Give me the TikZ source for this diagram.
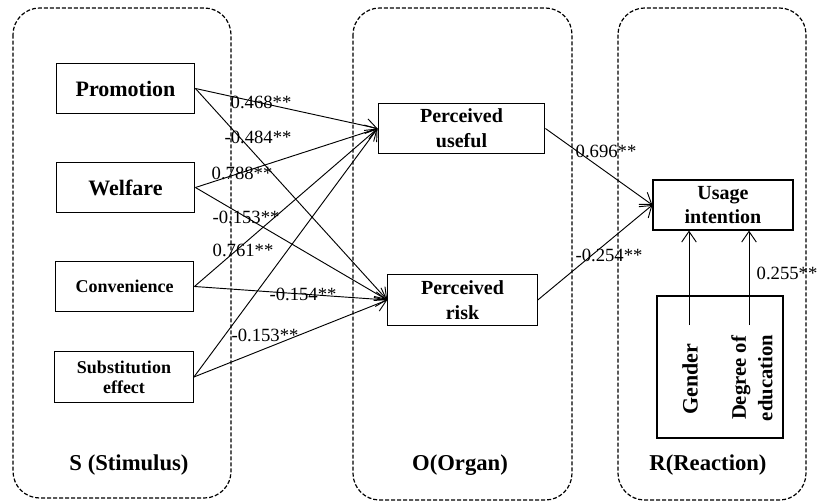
\documentclass[tikz,border=0pt]{standalone}
\usepackage{fontspec}
\setmainfont{Liberation Serif}
\usetikzlibrary{arrows.meta}

\begin{document}
\begin{tikzpicture}[x=0.75pt,y=-0.75pt,
            panel/.style={draw,dash pattern=on 3pt off 1.5pt,line width=0.9pt,
                    rounded corners=20pt},
            sbox/.style={rectangle,draw,line width=0.9pt,minimum width=104pt,
                    minimum height=38pt,align=center,
                    font=\fontsize{16.5}{19}\bfseries\selectfont},
            ssmall/.style={sbox,font=\fontsize{13.5}{15}\bfseries\selectfont},
            obox/.style={rectangle,draw,line width=0.9pt,minimum height=38pt,
                    align=center,font=\fontsize{15}{18.5}\bfseries\selectfont},
            coef/.style={inner sep=0pt,font=\fontsize{14}{16}\selectfont},
            title/.style={font=\fontsize{17}{20}\bfseries\selectfont},
            link/.style={line width=0.7pt,-{Straight Barb[length=8pt,width=11pt]}},
        ]
        \useasboundingbox (0,0) rectangle (818,503);

        % Panels
        \draw[panel] (13,8) rectangle (231,498);
        \draw[panel] (353,8) rectangle (572,500);
        \draw[panel] (618,8) rectangle (806,500);
        \node[title] (stitle) at (129,465) {S (Stimulus)};
        \node[title] (otitle) at (460,465) {O(Organ)};
        \node[title] (rtitle) at (708,465) {R(Reaction)};

        % Stimulus
        \node[sbox] (promo) at (125.5,88.5) {Promotion};
        \node[sbox] (welf) at (125.5,187.5) {Welfare};
        \node[ssmall] (conv) at (124.5,286.5) {Convenience};
        \node[ssmall] (subst) at (124,377) {Substitution\\effect};

        % Organ
        \node[obox,minimum width=125pt] (useful) at (461.5,128.5) {Perceived\\useful};
        \node[obox,minimum width=112pt] (risk) at (462.5,300) {Perceived\\risk};

        % Reaction
        \node[obox,minimum width=105pt,minimum height=37.5pt] (usage) at (723,205) {Usage\\intention};
        \node[rectangle,draw,line width=0.9pt,minimum width=94.5pt,
            minimum height=106.5pt] (ctrl) at (720,367) {};
        \node[rotate=90,font=\fontsize{16.5}{19}\bfseries\selectfont]
            (gender) at (690,379) {Gender};
        \node[rotate=90,align=center,font=\fontsize{15.5}{20}\bfseries\selectfont]
            (edu) at (752,378) {Degree of\\education};
        \coordinate (gtop) at (689,325);
        \coordinate (etop) at (749,325);

        % Paths
        \foreach \src in {promo,welf,conv,subst} {
                \draw[link] (\src.east) -- (useful.west);
                \draw[link] (\src.east) -- (risk.west);
            }
        \draw[link] (useful.east) -- (usage.west);
        \draw[link] (risk.east) -- (usage.west);
        \draw[link] (gtop) -- (gtop |- usage.south);
        \draw[link] (etop) -- (etop |- usage.south);

        % Coefficients
        \node[coef] (c1) at (261,102) {0.468**};
        \node[coef] (c2) at (258,137) {-0.484**};
        \node[coef] (c3) at (242,173) {0.788**};
        \node[coef] (c4) at (246,217) {-0.153**};
        \node[coef] (c5) at (243,250) {0.761**};
        \node[coef] (c6) at (303,294) {-0.154**};
        \node[coef] (c7) at (265,335) {-0.153**};
        \node[coef] (c8) at (606,151) {0.696**};
        \node[coef] (c9) at (609,255) {-0.254**};
        \node[coef] (c10) at (787,273) {0.255**};

    \end{tikzpicture}
\end{document}
